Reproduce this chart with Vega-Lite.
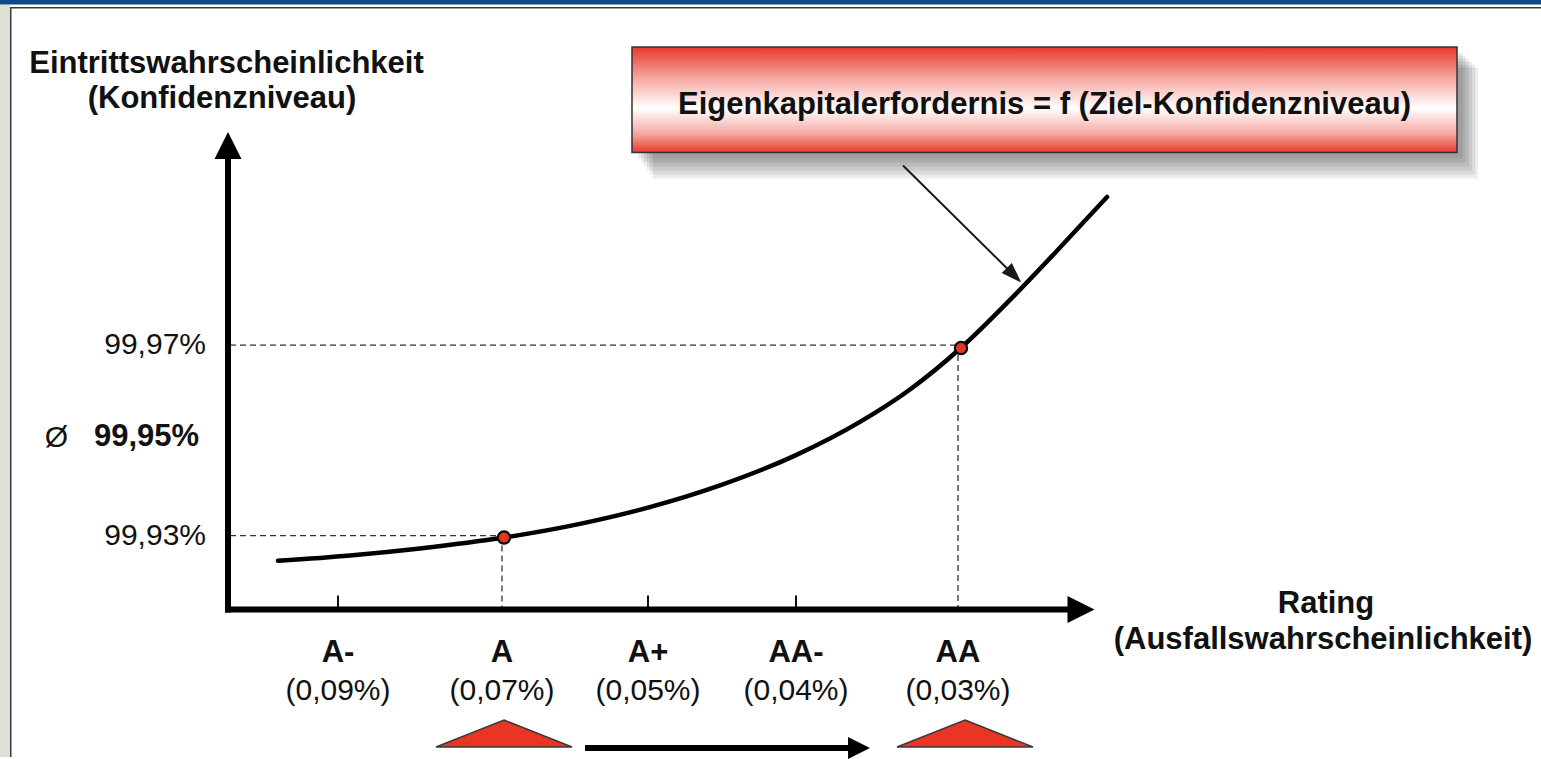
{
  "$schema": "https://vega.github.io/schema/vega-lite/v6.json",
  "width": 1541,
  "height": 759,
  "padding": 0,
  "autosize": {"type": "fit", "contains": "padding"},
  "background": "white",
  "config": {"view": {"stroke": null}, "font": "Liberation Sans"},
  "datasets": {
    "frame": [
      {"part": "panel", "x": -1.180645, "x2": -1.116129, "y": 99.883508, "y2": 100.041519},
      {"part": "bar", "x": -1.180645, "x2": 8.76129, "y": 100.041519, "y2": 100.042461},
      {"part": "line", "x": -1.116129, "x2": 8.76129, "y": 100.040681, "y2": 100.040995},
      {"part": "line", "x": -1.116129, "x2": -1.106452, "y": 99.883508, "y2": 100.040995}
    ],
    "shadow": [
      {"x": 2.935484, "x2": 8.258065, "y": 100.009163, "y2": 100.031362},
      {"x": 2.954839, "x2": 8.277419, "y": 100.008325, "y2": 100.030733},
      {"x": 2.974194, "x2": 8.296774, "y": 100.007487, "y2": 100.030105},
      {"x": 2.993548, "x2": 8.316129, "y": 100.006649, "y2": 100.029477},
      {"x": 3.012903, "x2": 8.335484, "y": 100.005812, "y2": 100.028848},
      {"x": 3.032258, "x2": 8.354839, "y": 100.004974, "y2": 100.02822}
    ],
    "box": [{"x": 2.896774, "x2": 8.219355, "y": 100.010419, "y2": 100.032618}],
    "guides": [
      {"x": 0.303226, "x2": 5, "y": 99.97, "y2": 99.97},
      {"x": 0.303226, "x2": 2.058065, "y": 99.93, "y2": 99.93},
      {"x": 2.058065, "x2": 2.058065, "y": 99.93, "y2": 99.914922},
      {"x": 5, "x2": 5, "y": 99.97, "y2": 99.914922}
    ],
    "ticks": [
      {"x": 1, "x2": 1, "y": 99.917435, "y2": 99.914503},
      {"x": 3, "x2": 3, "y": 99.917435, "y2": 99.914503},
      {"x": 3.954839, "x2": 3.954839, "y": 99.917435, "y2": 99.914503}
    ],
    "axes": [
      {"x": 0.290323, "x2": 0.290323, "y": 99.913875, "y2": 100.009163},
      {"x": 0.270968, "x2": 5.709677, "y": 99.914503, "y2": 99.914503},
      {"x": 2.593548, "x2": 4.303226, "y": 99.885393, "y2": 99.885393}
    ],
    "heads": [
      {"dir": "up", "x": 0.290323, "y": 100.011885},
      {"dir": "right", "x": 5.793548, "y": 99.914503}
    ],
    "smallhead": [{"x": 4.36129, "y": 99.885393}],
    "pointer": [{"x": 4.645161, "y": 100.007697, "x2": 5.36129, "y2": 99.98466}],
    "pointerhead": [{"x": 5.36129, "y": 99.98466}],
    "curve": [
      {"x": 0.612903, "y": 99.924702},
      {"x": 1.077419, "y": 99.925833},
      {"x": 1.529032, "y": 99.927299},
      {"x": 2.070968, "y": 99.929581},
      {"x": 2.56129, "y": 99.932451},
      {"x": 3.0, "y": 99.935864},
      {"x": 3.464516, "y": 99.940534},
      {"x": 3.954839, "y": 99.946901},
      {"x": 4.367742, "y": 99.953875},
      {"x": 4.690323, "y": 99.960681},
      {"x": 5.019355, "y": 99.969435},
      {"x": 5.335484, "y": 99.979487},
      {"x": 5.658065, "y": 99.990482},
      {"x": 5.96129, "y": 100.0011}
    ],
    "targets": [
      {"rating": "A", "x": 2.070968, "y": 99.929581},
      {"rating": "AA", "x": 5.019355, "y": 99.969372}
    ],
    "triangles": [
      {"x": 2.070968, "y": 99.88843},
      {"x": 5.045161, "y": 99.88843}
    ],
    "boldCenter": [
      {"t": "Eintrittswahrscheinlichkeit", "x": 0.2806, "y": 100.0291},
      {"t": "(Konfidenzniveau)", "x": 0.2516, "y": 100.0217},
      {"t": "Rating", "x": 7.3742, "y": 99.9156},
      {"t": "(Ausfallswahrscheinlichkeit)", "x": 7.3548, "y": 99.908},
      {"t": "Eigenkapitalerfordernis = f (Ziel-Konfidenzniveau)", "x": 5.558065, "y": 100.0205},
      {"t": "A-", "x": 1, "y": 99.9053},
      {"t": "A", "x": 2.058065, "y": 99.9053},
      {"t": "A+", "x": 3, "y": 99.9053},
      {"t": "AA-", "x": 3.954839, "y": 99.9053},
      {"t": "AA", "x": 5, "y": 99.9053}
    ],
    "normalCenter": [
      {"t": "(0,09%)", "x": 1, "y": 99.8973},
      {"t": "(0,07%)", "x": 2.058065, "y": 99.8973},
      {"t": "(0,05%)", "x": 3, "y": 99.8973},
      {"t": "(0,04%)", "x": 3.954839, "y": 99.8973},
      {"t": "(0,03%)", "x": 5, "y": 99.8973},
      {"t": "Ø", "x": -0.816129, "y": 99.950587}
    ],
    "normalRight": [
      {"t": "99,97%", "x": 0.148387, "y": 99.97},
      {"t": "99,93%", "x": 0.148387, "y": 99.93}
    ],
    "boldLeft": [
      {"t": "99,95%", "x": -0.574194, "y": 99.9506}
    ]
  },
  "encoding": {
    "x": {"field": "x", "type": "quantitative", "axis": null, "scale": {"domain": [-1.180645, 8.76129], "nice": false, "zero": false}},
    "y": {"field": "y", "type": "quantitative", "axis": null, "scale": {"domain": [99.883508, 100.042461], "nice": false, "zero": false}}
  },
  "layer": [
    {
      "data": {"name": "frame"},
      "mark": {"type": "rect", "opacity": 1},
      "encoding": {
        "x2": {"field": "x2"},
        "y2": {"field": "y2"},
        "color": {"field": "part", "type": "nominal", "legend": null, "scale": {"domain": ["bar", "panel", "line"], "range": ["#0f4a87", "#dedfd5", "#3a3a3a"]}}
      }
    },
    {
      "data": {"name": "shadow"},
      "mark": {"type": "rect", "fill": "#000000", "opacity": 0.075},
      "encoding": {"x2": {"field": "x2"}, "y2": {"field": "y2"}}
    },
    {
      "data": {"name": "box"},
      "mark": {
        "type": "rect",
        "stroke": "#333333",
        "strokeWidth": 1.5,
        "opacity": 1,
        "fill": {
          "gradient": "linear", "x1": 0, "y1": 0, "x2": 0, "y2": 1,
          "stops": [
            {"offset": 0, "color": "#e8392c"},
            {"offset": 0.3, "color": "#f6a8a1"},
            {"offset": 0.58, "color": "#ffffff"},
            {"offset": 0.82, "color": "#f6a8a1"},
            {"offset": 1, "color": "#e8392c"}
          ]
        }
      },
      "encoding": {"x2": {"field": "x2"}, "y2": {"field": "y2"}}
    },
    {
      "data": {"name": "pointer"},
      "mark": {"type": "rule", "color": "#1a1a1a", "strokeWidth": 2},
      "encoding": {"x2": {"field": "x2"}, "y2": {"field": "y2"}}
    },
    {
      "data": {"name": "pointerhead"},
      "mark": {"type": "point", "shape": "M-1,-0.7L1,0L-1,0.7Z", "size": 420, "angle": 45, "filled": true, "color": "#1a1a1a", "opacity": 1}
    },
    {
      "data": {"name": "guides"},
      "mark": {"type": "rule", "color": "#333333", "strokeWidth": 1.3, "strokeDash": [6, 4]},
      "encoding": {"x2": {"field": "x2"}, "y2": {"field": "y2"}}
    },
    {
      "data": {"name": "ticks"},
      "mark": {"type": "rule", "color": "#111111", "strokeWidth": 2},
      "encoding": {"x2": {"field": "x2"}, "y2": {"field": "y2"}}
    },
    {
      "data": {"name": "axes"},
      "mark": {"type": "rule", "color": "#000000", "strokeWidth": 6, "strokeCap": "butt"},
      "encoding": {"x2": {"field": "x2"}, "y2": {"field": "y2"}}
    },
    {
      "data": {"name": "heads"},
      "mark": {"type": "point", "size": 729, "filled": true, "color": "#000000", "opacity": 1},
      "encoding": {
        "shape": {"field": "dir", "type": "nominal", "legend": null, "scale": {"domain": ["up", "right"], "range": ["M0,-1L1,1L-1,1Z", "M-1,-1L1,0L-1,1Z"]}}
      }
    },
    {
      "data": {"name": "smallhead"},
      "mark": {"type": "point", "shape": "M-1,-1L1,0L-1,1Z", "size": 484, "filled": true, "color": "#000000", "opacity": 1}
    },
    {
      "data": {"name": "curve"},
      "mark": {"type": "line", "color": "#000000", "strokeWidth": 4.5, "interpolate": "monotone", "strokeCap": "round"}
    },
    {
      "data": {"name": "targets"},
      "mark": {"type": "point", "shape": "circle", "size": 150, "filled": true, "fill": "#e63323", "stroke": "#000000", "strokeWidth": 2.2, "opacity": 1}
    },
    {
      "data": {"name": "triangles"},
      "mark": {"type": "point", "shape": "M0,-0.1985L1,0.1985L-1,0.1985Z", "size": 18496, "filled": true, "fill": "#ea3424", "stroke": "#3a3a3a", "strokeWidth": 1.5, "opacity": 1}
    },
    {
      "data": {"name": "boldCenter"},
      "mark": {"type": "text", "font": "Liberation Sans", "fontWeight": "bold", "fontSize": 31, "align": "center", "baseline": "middle", "color": "#111111"},
      "encoding": {"text": {"field": "t"}}
    },
    {
      "data": {"name": "normalCenter"},
      "mark": {"type": "text", "font": "Liberation Sans", "fontSize": 30, "align": "center", "baseline": "middle", "color": "#111111"},
      "encoding": {"text": {"field": "t"}}
    },
    {
      "data": {"name": "normalRight"},
      "mark": {"type": "text", "font": "Liberation Sans", "fontSize": 30, "align": "right", "baseline": "middle", "color": "#111111"},
      "encoding": {"text": {"field": "t"}}
    },
    {
      "data": {"name": "boldLeft"},
      "mark": {"type": "text", "font": "Liberation Sans", "fontWeight": "bold", "fontSize": 31, "align": "left", "baseline": "middle", "color": "#111111"},
      "encoding": {"text": {"field": "t"}}
    }
  ]
}
